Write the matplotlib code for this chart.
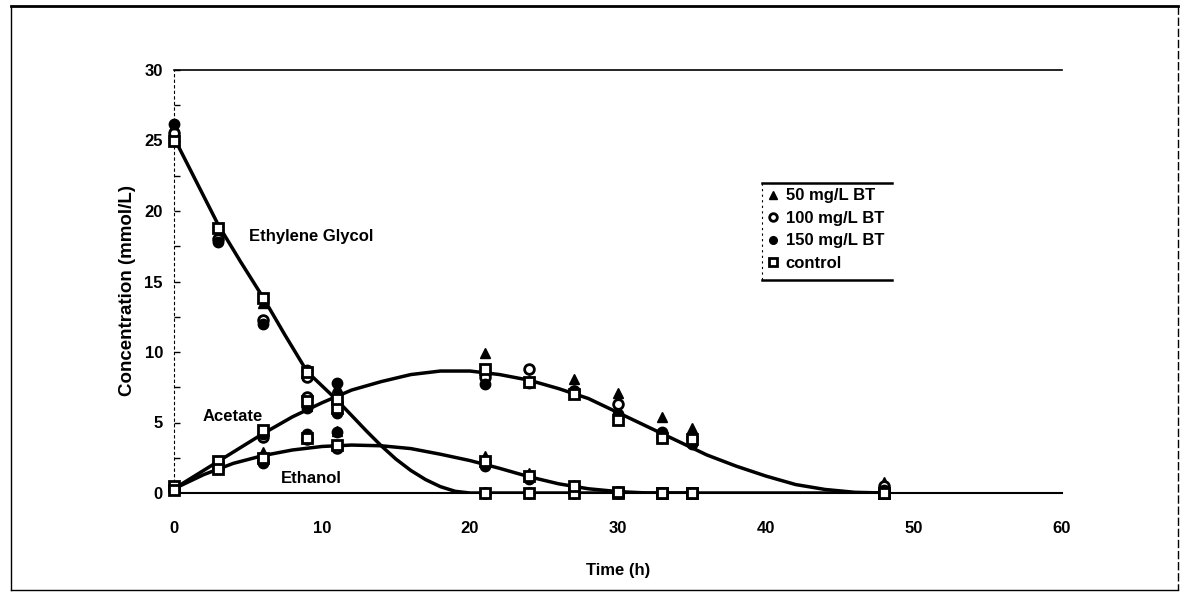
import matplotlib
matplotlib.use("Agg")
import matplotlib.pyplot as plt
from matplotlib.lines import Line2D
import numpy as np

plt.rcParams['font.family'] = ['Liberation Sans', 'DejaVu Sans']

# ---- sampling times (h)
times = [0, 3, 6, 9, 11, 21, 24, 27, 30, 33, 35, 48]

# ---- measured data per treatment (mmol/L)
eg_50 = [26.0, 18.3, 13.5, 8.4, 7.5, 0.0, 0.0, 0.0, 0.0, 0.0, 0.0, 0.0]
ac_50 = [0.4, 2.2, 4.3, 6.2, 7.0, 9.9, 8.0, 8.1, 7.1, 5.4, 4.6, 0.8]
et_50 = [0.3, 1.9, 2.9, 4.0, 4.4, 2.6, 1.4, 0.6, 0.15, 0.05, 0.0, 0.0]

eg_100 = [25.5, 18.0, 12.3, 8.2, 6.4, 0.0, 0.0, 0.0, 0.0, 0.0, 0.0, 0.0]
ac_100 = [0.4, 2.1, 4.0, 6.8, 6.4, 8.2, 8.8, 7.2, 6.3, 4.0, 3.9, 0.5]
et_100 = [0.3, 1.8, 2.3, 3.8, 3.2, 2.2, 1.2, 0.4, 0.1, 0.0, 0.0, 0.0]

eg_150 = [26.2, 17.8, 12.0, 8.7, 7.8, 0.0, 0.0, 0.0, 0.0, 0.0, 0.0, 0.0]
ac_150 = [0.3, 2.0, 4.2, 6.0, 5.7, 7.7, 7.8, 7.2, 5.6, 4.3, 3.5, 0.2]
et_150 = [0.3, 1.8, 2.1, 4.2, 4.3, 1.9, 1.0, 0.3, 0.1, 0.0, 0.0, 0.0]

eg_ctl = [25.0, 18.8, 13.8, 8.6, 6.0, 0.0, 0.0, 0.0, 0.0, 0.0, 0.0, 0.0]
ac_ctl = [0.5, 2.3, 4.5, 6.5, 6.7, 8.8, 7.9, 7.0, 5.2, 3.9, 3.8, 0.0]
et_ctl = [0.2, 1.7, 2.5, 3.9, 3.4, 2.3, 1.2, 0.5, 0.1, 0.0, 0.0, 0.0]

# ---- fitted curves
eg_fit_t = [0, 1.5, 3, 4.5, 6, 7.5, 9, 10, 11, 12, 13, 14, 15, 16, 17, 18, 19, 20, 48]
eg_fit_c = [25.2, 22.1, 19.0, 16.4, 13.9, 11.2, 8.6, 7.6, 6.6, 5.5, 4.4, 3.35, 2.4, 1.6, 0.95, 0.45, 0.12, 0.0, 0.0]

ac_fit_t = [0, 2, 4, 6, 8, 10, 12, 14, 16, 18, 20, 22, 24, 26, 28, 30, 32, 34, 36, 38, 40, 42, 44, 46, 48]
ac_fit_c = [0.3, 1.6, 2.9, 4.2, 5.4, 6.4, 7.3, 7.9, 8.4, 8.65, 8.65, 8.4, 8.0, 7.4, 6.7, 5.7, 4.7, 3.7, 2.7, 1.9, 1.2, 0.6, 0.25, 0.05, 0.0]

et_fit_t = [0, 2, 4, 6, 8, 10, 12, 14, 16, 18, 20, 22, 24, 26, 28, 30, 32, 35]
et_fit_c = [0.3, 1.3, 2.1, 2.65, 3.05, 3.3, 3.4, 3.35, 3.15, 2.75, 2.3, 1.75, 1.15, 0.65, 0.3, 0.1, 0.0, 0.0]

series_labels = ["50 mg/L BT", "100 mg/L BT", "150 mg/L BT", "control"]

W, H = 1185, 593
fig = plt.figure(figsize=(W / 100, H / 100), dpi=100)
ax = fig.add_axes([174 / W, 1 - 493 / H, (1062 - 174) / W, (493 - 70) / H])

def fx(px):
    return px / W

def fy(py):
    return 1 - py / H

# outer frame
fig.add_artist(Line2D([fx(11), fx(1178)], [fy(6), fy(6)], color='black', lw=2.0))
fig.add_artist(Line2D([fx(11), fx(11)], [fy(6), fy(590)], color='black', lw=1.0))
fig.add_artist(Line2D([fx(11), fx(1178)], [fy(590), fy(590)], color='black', lw=1.0))
fig.add_artist(Line2D([fx(1178), fx(1178)], [fy(6), fy(590)], color='black', lw=1.0, ls=(0, (6, 2))))

# curves
for t, c in [(eg_fit_t, eg_fit_c), (ac_fit_t, ac_fit_c), (et_fit_t, et_fit_c)]:
    ax.plot(t, c, color='black', lw=2.5, solid_capstyle='round', zorder=2)

styles = [
    dict(marker='^', mfc='black', mec='black', ms=7),
    dict(marker='o', mfc='white', mec='black', ms=7, mew=2.0),
    dict(marker='o', mfc='black', mec='black', ms=7.5),
    dict(marker='s', mfc='white', mec='black', ms=6.5, mew=2.0),
]
groups = [(eg_50, ac_50, et_50), (eg_100, ac_100, et_100),
          (eg_150, ac_150, et_150), (eg_ctl, ac_ctl, et_ctl)]
for (eg, ac, et), st in zip(groups, styles):
    for vals in (eg, ac, et):
        ax.plot(times, vals, ls='none', zorder=3, clip_on=False, **st)

ax.set_xlim(0, 60)
ax.set_ylim(0, 30)
ax.set_xticks(range(0, 61, 10))
ax.set_yticks(range(0, 31, 5))
ax.set_yticks(np.arange(2.5, 30, 5), minor=True)
ax.tick_params(axis='x', length=0, pad=20, labelsize=12)
ax.tick_params(axis='y', which='both', direction='in', length=4, width=1, pad=8, labelsize=12)
for lab in ax.get_xticklabels() + ax.get_yticklabels():
    lab.set_fontweight('bold')

ax.spines['right'].set_visible(False)
ax.spines['top'].set_linewidth(1.2)
ax.spines['bottom'].set_linewidth(1.5)
ax.spines['left'].set_linewidth(0.8)
ax.spines['left'].set_linestyle((0, (2, 3)))

ax.set_xlabel("Time (h)", fontsize=12, fontweight='bold')
ax.xaxis.set_label_coords(0.5, 1 - (563 - 70) / (493 - 70))
ax.set_ylabel("Concentration (mmol/L)", fontsize=13.5, fontweight='bold')
ax.yaxis.set_label_coords(-(174 - 136) / (1062 - 174), 1 - (290 - 70) / (493 - 70))

ax.text(5.1, 18.2, "Ethylene Glycol", fontsize=12, fontweight='bold', va='center', ha='left')
ax.text(1.9, 5.4, "Acetate", fontsize=12, fontweight='bold', va='center', ha='left')
ax.text(7.2, 1.05, "Ethanol", fontsize=12, fontweight='bold', va='center', ha='left')

# legend
handles = [Line2D([], [], ls='none', **st) for st in styles]
for h in handles:
    h.set_markersize(5.5)
leg = fig.legend(handles, series_labels, loc='upper left',
                 bbox_to_anchor=(fx(765), fy(185)), frameon=False,
                 handlelength=0.6, handletextpad=0.45, labelspacing=0.45,
                 prop=dict(size=12, weight='bold'), borderaxespad=0, borderpad=0.2)
fig.add_artist(Line2D([fx(762), fx(892)], [fy(183), fy(183)], color='black', lw=1.8))
fig.add_artist(Line2D([fx(762), fx(892)], [fy(280), fy(280)], color='black', lw=1.8))
fig.add_artist(Line2D([fx(762), fx(762)], [fy(183), fy(280)], color='black', lw=0.8, ls=(0, (2, 3))))

fig.savefig("out.png", dpi=100, facecolor='white')
